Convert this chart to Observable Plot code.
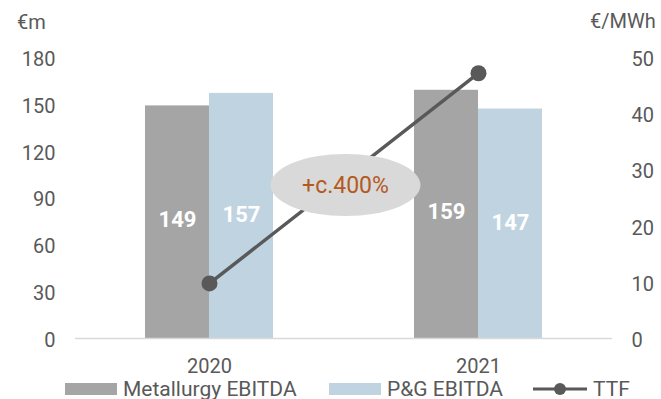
<!DOCTYPE html>
<html>
<head>
<meta charset="utf-8">
<script src="https://cdn.jsdelivr.net/npm/d3@7"></script>
<script src="https://cdn.jsdelivr.net/npm/@observablehq/plot@0.6"></script>
<style>
  html, body { margin: 0; padding: 0; background: #fff; }
  body { width: 661px; height: 399px; position: relative; overflow: hidden; font-family: Roboto, "Noto Sans", sans-serif; }
  #chart svg { display: block; }
  .unit { position: absolute; font-size: 20px; color: #595959; line-height: 20px; }
  .leg { position: absolute; font-size: 21px; color: #595959; line-height: 21px; white-space: nowrap; }
  .sw { position: absolute; height: 12px; }
</style>
</head>
<body>
<div id="chart"></div>
<div class="unit" style="left:17px; top:12px;">€m</div>
<div class="unit" style="left:590px; top:11px;">€/MWh</div>
<div id="legend"></div>
<script>
// ---- data ----
const years = ["2020", "2021"];
const metallurgy = [149, 159];
const pg = [157, 147];
const ttf = [9.8, 47.2];
const leftTicks = [0, 30, 60, 90, 120, 150, 180];
const rightTicks = [0, 10, 20, 30, 40, 50];
const seriesNames = ["Metallurgy EBITDA", "P&G EBITDA", "TTF"];
const annotationLabel = "+c.400%";
const annotationY = 98; // in €m units

// ---- derived ----
const leftMax = 180, rightMax = 50;
const k = leftMax / rightMax;
const bars = years.flatMap((y, i) => [
  {year: y, series: seriesNames[0], value: metallurgy[i]},
  {year: y, series: seriesNames[1], value: pg[i]}
]);
const ttfData = years.map((y, i) => ({year: y, ttf: ttf[i]}));
const colors = {[seriesNames[0]]: "#A5A5A5", [seriesNames[1]]: "#BFD3E1"};

const ellipseMark = (index, scales, values, dimensions) => {
  const x = scales.x, y = scales.y;
  const bw = typeof x.bandwidth === "function" ? x.bandwidth() : (x.bandwidth || 0);
  const cx = (x(years[0]) + x(years[1])) / 2 + bw / 2 + 2;
  const cy = y(annotationY);
  const g = d3.create("svg:g");
  g.append("ellipse").attr("cx", cx).attr("cy", cy).attr("rx", 75).attr("ry", 31).attr("fill", "#D9D9D9");
  g.append("text").attr("x", cx).attr("y", cy).attr("dy", "0.36em")
    .attr("text-anchor", "middle").attr("font-size", 23).attr("fill", "#B45A1E")
    .attr("font-family", "Roboto").text(annotationLabel);
  return g.node();
};

const chart = Plot.plot({
  width: 661,
  height: 399,
  marginLeft: 75,
  marginRight: 49,
  marginTop: 57,
  marginBottom: 61,
  style: {fontFamily: "Roboto", fontSize: "20px", color: "#595959", background: "#fff"},
  x: {type: "band", domain: years, paddingInner: 0.524, paddingOuter: 0.26, axis: null},
  y: {domain: [0, leftMax], axis: null},
  marks: [
    Plot.barY(bars.filter(d => d.series === seriesNames[0]), {x: "year", y: "value", fill: colors[seriesNames[0]], insetRight: 64}),
    Plot.barY(bars.filter(d => d.series === seriesNames[1]), {x: "year", y: "value", fill: colors[seriesNames[1]], insetLeft: 64}),
    Plot.ruleY([0], {stroke: "#D9D9D9", strokeWidth: 1.5}),
    Plot.text(bars.filter(d => d.series === seriesNames[0]), {x: "year", y: d => d.value / 2, text: d => String(d.value), dx: -32, dy: -2, fill: "#fff", fontWeight: "bold", fontSize: 22}),
    Plot.text(bars.filter(d => d.series === seriesNames[1]), {x: "year", y: d => d.value / 2, text: d => String(d.value), dx: 32, dy: -1, fill: "#fff", fontWeight: "bold", fontSize: 22}),
    Plot.line(ttfData, {x: "year", y: d => d.ttf * k, stroke: "#595959", strokeWidth: 3.5}),
    Plot.dot(ttfData, {x: "year", y: d => d.ttf * k, r: 8, fill: "#595959"}),
    ellipseMark,
    Plot.axisX({tickSize: 0, tickPadding: 20, fontSize: 20, fill: "#595959", label: null}),
    Plot.axisY({anchor: "left", ticks: leftTicks, tickSize: 0, tickPadding: 20, fontSize: 20, fill: "#595959", label: null, dy: 2}),
    Plot.axisY({anchor: "right", ticks: rightTicks.map(v => v * k), tickFormat: d => String(Math.round(d / k)), tickSize: 0, tickPadding: 19, fontSize: 20, fill: "#595959", label: null, dy: 2})
  ]
});
document.getElementById("chart").appendChild(chart);

// ---- legend ----
const legend = document.getElementById("legend");
const legItems = [
  {name: seriesNames[0], type: "box", color: colors[seriesNames[0]], swLeft: 65, textLeft: 123},
  {name: seriesNames[1], type: "box", color: colors[seriesNames[1]], swLeft: 329, textLeft: 387},
  {name: seriesNames[2], type: "line", color: "#595959", swLeft: 533, textLeft: 593}
];
legItems.forEach(it => {
  if (it.type === "box") {
    const s = document.createElement("div");
    s.className = "sw";
    s.style.cssText = `left:${it.swLeft}px; top:383px; width:52px; background:${it.color};`;
    legend.appendChild(s);
  } else {
    const ns = "http://www.w3.org/2000/svg";
    const svg = document.createElementNS(ns, "svg");
    svg.setAttribute("width", 56); svg.setAttribute("height", 14);
    svg.style.cssText = `position:absolute; left:${it.swLeft}px; top:382px;`;
    const l = document.createElementNS(ns, "line");
    l.setAttribute("x1", 0); l.setAttribute("x2", 54); l.setAttribute("y1", 7); l.setAttribute("y2", 7);
    l.setAttribute("stroke", it.color); l.setAttribute("stroke-width", 3);
    const c = document.createElementNS(ns, "circle");
    c.setAttribute("cx", 27); c.setAttribute("cy", 7); c.setAttribute("r", 6); c.setAttribute("fill", it.color);
    svg.appendChild(l); svg.appendChild(c);
    legend.appendChild(svg);
  }
  const t = document.createElement("div");
  t.className = "leg";
  t.style.cssText = `left:${it.textLeft}px; top:379px;`;
  t.textContent = it.name;
  legend.appendChild(t);
});
</script>
</body>
</html>
